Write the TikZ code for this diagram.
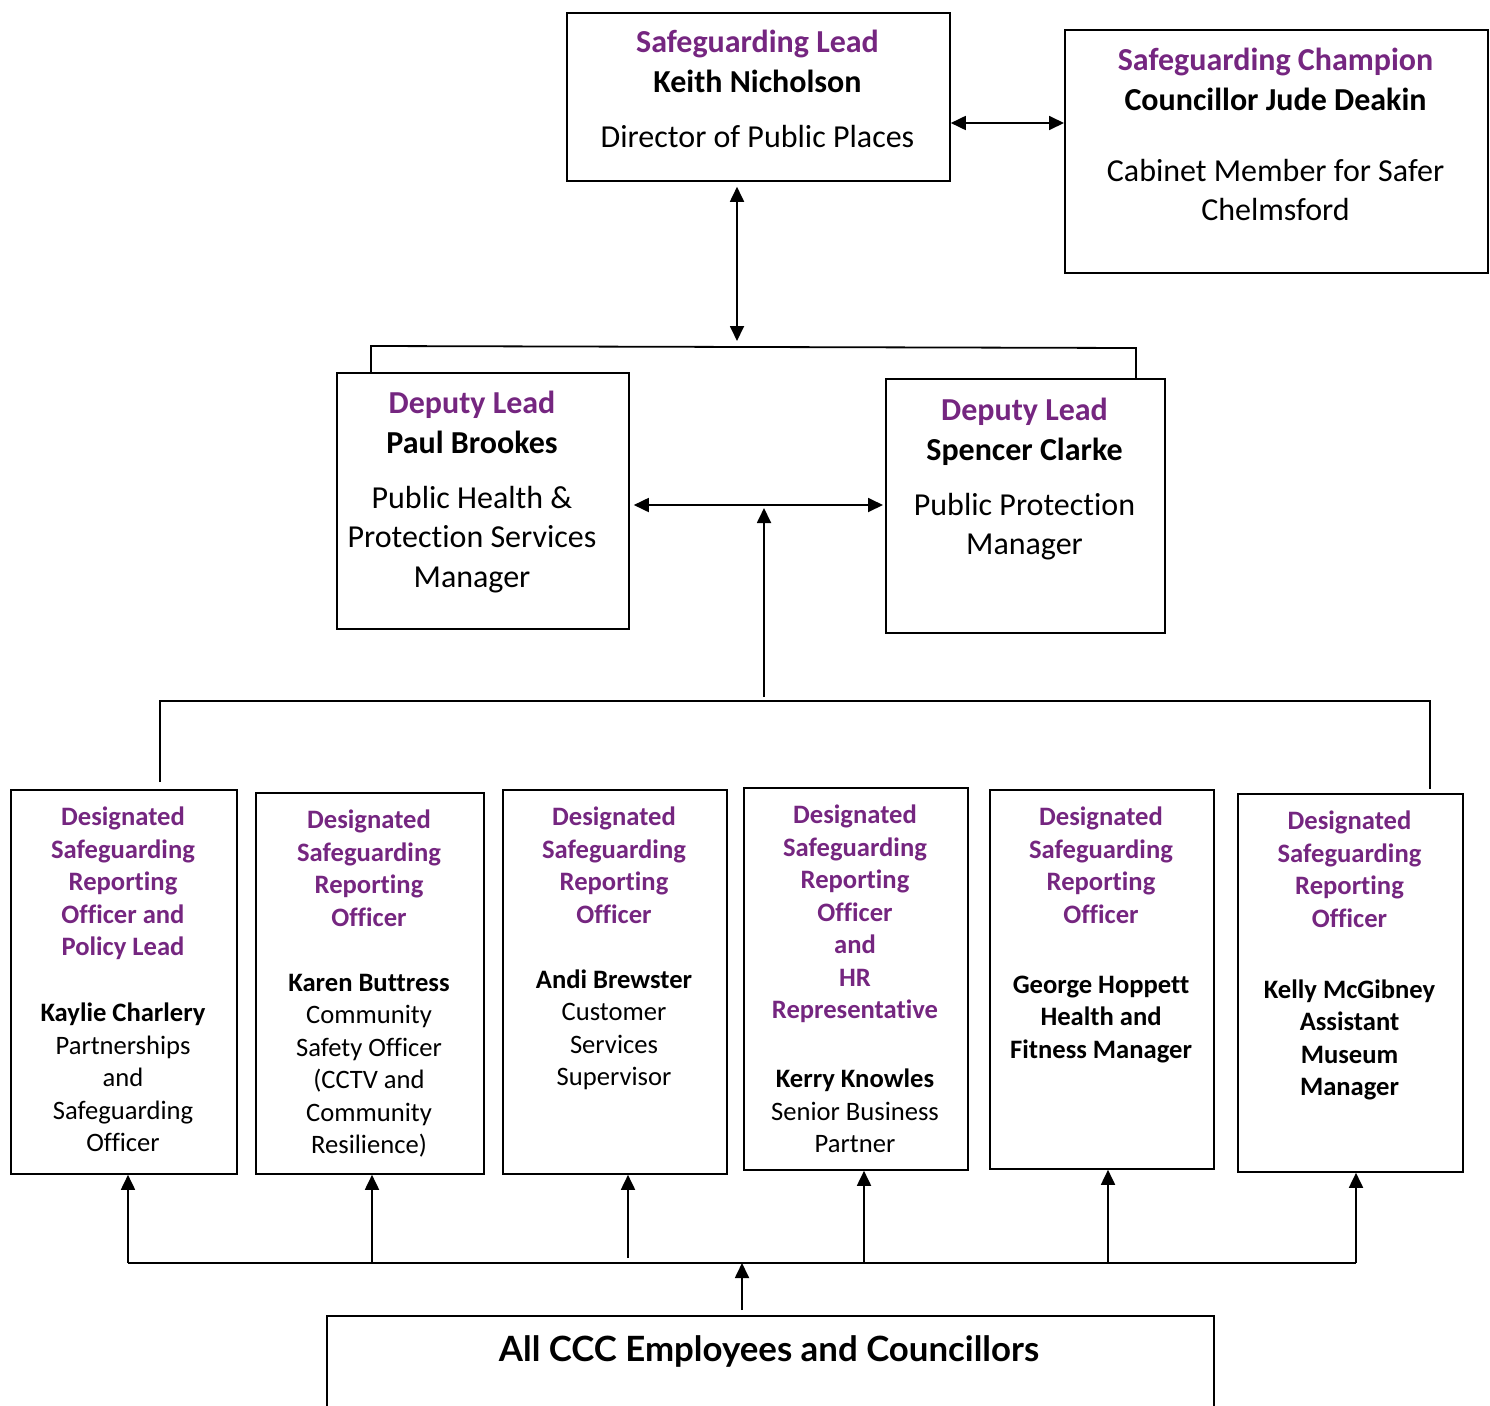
\documentclass[tikz,border=0pt]{standalone}
\usepackage{fontspec}
\setmainfont{Carlito}[Ligatures=NoCommon]
\newfontfamily\gillfont{Lato}
\usetikzlibrary{arrows.meta}
\definecolor{dpurple}{RGB}{117,38,128}
\newcommand{\ttl}[1]{\textcolor{dpurple}{\bfseries #1}}
\newcommand{\bk}[1]{\textbf{#1}}
\begin{document}
\begin{tikzpicture}[x=1pt,y=-1pt,
  box/.style={draw, line width=1.8pt, inner sep=0pt, anchor=north west},
  txt/.style={align=center, inner sep=0pt, anchor=north},
  topf/.style={font={\fontsize{32}{39.5}\selectfont}},
  botf/.style={font={\fontsize{26.6}{32.5}\selectfont}},
  ln/.style={line width=1.8pt},
  arr/.style={line width=1.8pt, -{Triangle[length=15pt,width=14pt]}},
  dbl/.style={line width=1.8pt, {Triangle[length=15pt,width=14pt]}-{Triangle[length=15pt,width=14pt]}}
]
\useasboundingbox (0,0) rectangle (1490,1405);
\clip (0,0) rectangle (1490,1405);

% top row
\node[box, minimum width=383pt, minimum height=168pt] (lead) at (566,12) {};
\node[txt, topf] (leadt) at (757.5,30) {\ttl{Safeguarding Lead}\\ \bk{Keith Nicholson}\\[15.5pt] Director of Public Places};
\node[box, minimum width=423pt, minimum height=243pt] (champ) at (1064,29) {};
\node[txt, topf] (champt) at (1275.5,48) {\ttl{Safeguarding Champion}\\ \bk{Councillor Jude Deakin}\\[31.5pt] Cabinet Member for Safer\\ Chelmsford};

% deputies
\node[box, minimum width=292pt, minimum height=256pt] (ldep) at (336,372) {};
\node[txt, topf] (ldept) at (472,391) {\ttl{Deputy Lead}\\ \bk{Paul Brookes}\\[15.5pt] Public Health \&\\ Protection Services\\ Manager};
\node[box, minimum width=279pt, minimum height=254pt] (rdep) at (885,378) {};
\node[txt, topf] (rdept) at (1024.5,398) {\ttl{Deputy Lead}\\ \bk{Spencer Clarke}\\[15.5pt] Public Protection\\ Manager};

% bottom row
\node[box, minimum width=226pt, minimum height=384pt] (b1) at (10,789) {};
\node[txt, botf] (b1t) at (123,807) {\ttl{Designated}\\ \ttl{Safeguarding}\\ \ttl{Reporting}\\ \ttl{Officer and}\\ \ttl{Policy Lead}\\[33.5pt] \bk{Kaylie Charlery}\\ Partnerships\\ and\\ Safeguarding\\ Officer};
\node[box, minimum width=228pt, minimum height=381pt] (b2) at (255,792) {};
\node[txt, botf] (b2t) at (369,810) {\ttl{Designated}\\ \ttl{Safeguarding}\\ \ttl{Reporting}\\ \ttl{Officer}\\[32.5pt] \bk{Karen Buttress}\\ Community\\ Safety Officer\\ (CCTV and\\ Community\\ Resilience)};
\node[box, minimum width=224pt, minimum height=384pt] (b3) at (502,789) {};
\node[txt, botf] (b3t) at (614,807) {\ttl{Designated}\\ \ttl{Safeguarding}\\ \ttl{Reporting}\\ \ttl{Officer}\\[32.5pt] \bk{Andi Brewster}\\ Customer\\ Services\\ Supervisor};
\node[box, minimum width=224pt, minimum height=382pt] (b4) at (743,787) {};
\node[txt, botf] (b4t) at (855,805) {\ttl{Designated}\\ \ttl{Safeguarding}\\ \ttl{Reporting}\\ \ttl{Officer}\\ \ttl{and}\\ \ttl{HR}\\ \ttl{Representative}\\[36.5pt] \bk{Kerry Knowles}\\ Senior Business\\ Partner};
\node[box, minimum width=224pt, minimum height=379pt] (b5) at (989,789) {};
\node[txt, botf] (b5t) at (1101,807) {\ttl{Designated}\\ \ttl{Safeguarding}\\ \ttl{Reporting}\\ \ttl{Officer}\\[37.5pt] \bk{George Hoppett}\\ \bk{Health and}\\ \bk{Fitness Manager}};
\node[box, minimum width=225pt, minimum height=378pt] (b6) at (1237,793) {};
\node[txt, botf] (b6t) at (1349.5,811) {\ttl{Designated}\\ \ttl{Safeguarding}\\ \ttl{Reporting}\\ \ttl{Officer}\\[38.5pt] \bk{Kelly McGibney}\\ \bk{Assistant}\\ \bk{Museum}\\ \bk{Manager}};

% all employees
\node[box, minimum width=887pt, minimum height=130pt] (all) at (326,1315) {};
\node[inner sep=0pt, anchor=base, font={\gillfont\bfseries\fontsize{34.8}{40}\selectfont}] (allt) at (769,1361) {All CCC Employees and Councillors};

% connectors top
\coordinate (h1) at (1000,123);
\draw[dbl] (lead.east |- h1) -- (champ.west |- h1);
\coordinate (bl) at (371,346);
\coordinate (br) at (1136,348);
\coordinate (v1) at (737,347);
\draw[ln] (bl |- ldep.north) -- (bl) -- (br) -- (br |- rdep.north);
\draw[dbl, shorten <=5pt, shorten >=6pt] (v1 |- lead.south) -- (v1);

% deputies connectors
\coordinate (hd) at (760,505);
\draw[dbl, shorten <=4pt, shorten >=2pt] (ldep.east |- hd) -- (rdep.west |- hd);
\coordinate (vm) at (764,697);
\draw[arr, shorten >=3pt] (vm) -- (vm |- hd);
\coordinate (bl2d) at (160,782);
\coordinate (bl2) at (160,701);
\coordinate (br2) at (1430,701);
\draw[ln, shorten >=4pt] (bl2d) -- (bl2) -- (br2) -- (br2 |- b6.north);

% bottom connectors
\coordinate (hb1) at (128,1263);
\coordinate (hb2) at (372,1263);
\coordinate (hb3) at (628,1258);
\coordinate (hb4) at (864,1263);
\coordinate (hb5) at (1108,1263);
\coordinate (hb6) at (1356,1263);
\coordinate (hbc) at (742,1263);
\draw[ln] (hb1) -- (hb6);
\draw[arr] (hb1) -- (hb1 |- b1.south);
\draw[arr] (hb2) -- (hb2 |- b2.south);
\draw[arr] (hb3) -- (hb3 |- b3.south);
\draw[arr] (hb4) -- (hb4 |- b4.south);
\draw[arr] (hb5) -- (hb5 |- b5.south);
\draw[arr] (hb6) -- (hb6 |- b6.south);
\draw[arr, shorten <=5pt] (hbc |- all.north) -- (hbc);
\end{tikzpicture}
\end{document}
